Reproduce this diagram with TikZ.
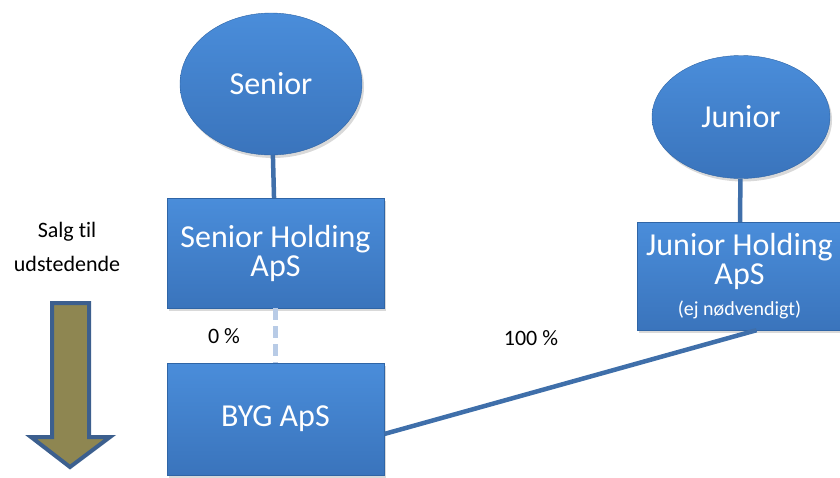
\documentclass[tikz,border=0pt]{standalone}
\usepackage{fontspec}
\setmainfont{Carlito}[Ligatures = NoCommon]
\usetikzlibrary{shapes.geometric,shadows}
\definecolor{boxtop}{HTML}{4A8DDA}
\definecolor{boxbottom}{HTML}{3A74BC}
\definecolor{boxedge}{HTML}{2F65A6}
\definecolor{linkblue}{HTML}{3F6FAA}
\definecolor{dashblue}{HTML}{B8CBE6}
\definecolor{olive}{HTML}{8E8651}
\definecolor{arrowedge}{HTML}{3C5F8E}
\tikzstyle{company} = [rectangle, minimum width = 217pt, minimum height = 110pt, text centered, align = center, draw = boxedge, top color = boxtop, bottom color = boxbottom, text = white, font = \fontsize{32}{29}\selectfont, drop shadow = {opacity = 0.3, shadow xshift = 2pt, shadow yshift = -3pt}]
\tikzstyle{owner} = [ellipse, text centered, draw = boxedge, top color = boxtop, bottom color = boxbottom, text = white, font = \fontsize{32}{34}\selectfont, drop shadow = {opacity = 0.3, shadow xshift = 2pt, shadow yshift = -3pt}]
\tikzstyle{share} = [font = \fontsize{22}{34}\selectfont, text centered, align = center]
\tikzstyle{link} = [line width = 4.5pt, draw = linkblue]

\begin{document}
\begin{tikzpicture}[x = 1pt, y = -1pt]
\useasboundingbox (0,0) rectangle (840,477);

\node(senior) [owner, minimum width = 182pt, minimum height = 142pt] at (271,84) {Senior};
\node(junior) [owner, minimum width = 178pt, minimum height = 123pt] at (741,117) {Junior};
\node(seniorholding) [company] at (275.5,253) {Senior Holding\\ApS};
\node(juniorholding) [company, minimum width = 205pt, minimum height = 108pt] at (739.5,276) {Junior Holding\\ApS\\[2pt]{\fontsize{20}{22}\selectfont (ej nødvendigt)}};
\node(byg) [company, minimum height = 112pt] at (275.5,419) {BYG ApS};

\node(zero) [share, fill = white, minimum width = 77pt, minimum height = 34pt] at (224,336) {0 \%};
\node(hundred) [share] at (531,338) {100 \%};
\node(salg) [share] at (67,247) {Salg til\\udstedende};

\draw [link] (senior) -- (seniorholding);
\draw [link] (junior) -- (juniorholding);
\draw [link, draw = dashblue, dash pattern = on 12pt off 6pt] (seniorholding) -- (byg);
\draw [link] ([yshift = -15pt]byg.east) -- ([xshift = 17pt]juniorholding.south);

\draw [fill = olive, draw = arrowedge, line width = 4pt] (52,303) -- (89,303) -- (89,437) -- (110,437) -- (70,467) -- (31,437) -- (52,437) -- cycle;

\end{tikzpicture}
\end{document}
